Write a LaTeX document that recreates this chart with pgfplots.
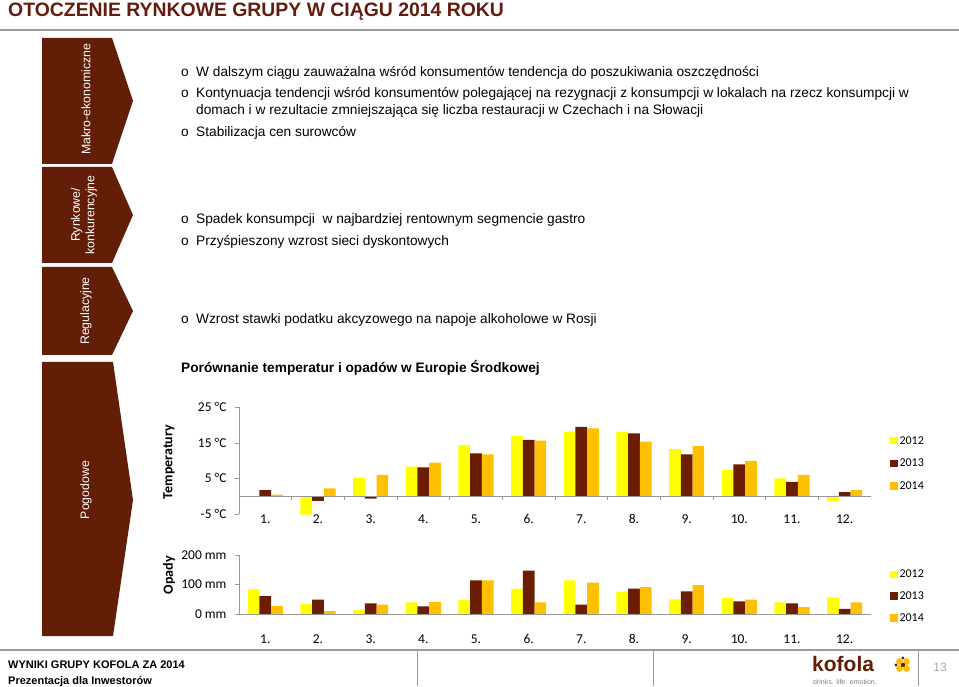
\documentclass[border=0pt]{standalone}
\usepackage{fontspec}
\setmainfont{Liberation Sans}
\newfontfamily\calfont{Carlito}
\usepackage{pgfplots}
\pgfplotsset{compat=1.18}
\definecolor{brn}{RGB}{98,30,6}
\definecolor{ttl}{RGB}{100,28,14}
\definecolor{cY}{RGB}{255,255,0}
\definecolor{cD}{RGB}{108,30,4}
\definecolor{cO}{RGB}{255,192,0}
\definecolor{axgray}{RGB}{150,150,150}
\definecolor{linegray}{RGB}{155,155,155}

\pgfplotsset{
  chart/.style={
    anchor=south west, scale only axis, width=632pt,
    ybar=0pt, bar width=0.222,
    xmin=0.5, xmax=12.5,
    axis lines*=left,
    x axis line style={draw=none},
    y axis line style={axgray},
    xtick={1,...,12},
    xticklabels={1.,2.,3.,4.,5.,6.,7.,8.,9.,10.,11.,12.},
    x tick style={draw=none},
    y tick style={axgray},
    tick align=outside, major tick length=4pt,
    ticklabel style={font=\calfont\fontsize{13.5}{14}\selectfont},
    yticklabel style={xshift=-5pt},
    legend cell align=left,
    legend image code/.code={\fill[##1] (0pt,-3.5pt) rectangle (7.5pt,4pt);},
  },
}

\begin{document}
\begin{tikzpicture}[x=1pt,y=1pt]
\useasboundingbox[fill=white] (0,0) rectangle (959,686);

\begin{scope}[yshift=686pt, yscale=-1]
  % title and rules
  \node[anchor=base west, inner sep=0pt, text=ttl, font=\bfseries\fontsize{19.4}{21}\selectfont] at (8,16.5) {OTOCZENIE RYNKOWE GRUPY W CIĄGU 2014 ROKU};
  \draw[linegray, line width=2pt] (0,30) -- (959,30);
  \draw[linegray, line width=1.5pt] (0,650) -- (959,650);
  \foreach \sx in {417,653,918} \draw[linegray, line width=1pt] (\sx,650) -- (\sx,686);

  % chevrons
  \fill[brn] (42,38) -- (112,38) -- (133,101) -- (112,164) -- (42,164) -- cycle;
  \fill[brn] (42,167) -- (112,167) -- (133,215) -- (112,263) -- (42,263) -- cycle;
  \fill[brn] (42,267) -- (112,267) -- (133,311) -- (112,355) -- (42,355) -- cycle;
  \fill[brn] (42,362) -- (113,362) -- (133,500) -- (113,636) -- (42,636) -- cycle;
  \begin{scope}[every node/.style={rotate=90, text=white, font=\fontsize{12.3}{14.5}\selectfont, align=center, inner sep=0pt}]
    \node at (86,99) {Makro-ekonomiczne};
    \node at (84,215) {Rynkowe/\\konkurencyjne};
    \node at (86,311) {Regulacyjne};
    \node at (86,490) {Pogodowe};
  \end{scope}

  % bullets
  \begin{scope}[every node/.style={anchor=base west, inner sep=0pt, font=\fontsize{13.7}{16}\selectfont}]
    \foreach \by in {77,98,137,224,246,324} \node at (181,\by) {o};
    \node at (196,77) {W dalszym ciągu zauważalna wśród konsumentów tendencja do poszukiwania oszczędności};
    \node at (196,98) {Kontynuacja tendencji wśród konsumentów polegającej na rezygnacji z konsumpcji w lokalach na rzecz konsumpcji w};
    \node at (196,115) {domach i w rezultacie zmniejszająca się liczba restauracji w Czechach i na Słowacji};
    \node at (196,137) {Stabilizacja cen surowców};
    \node at (196,224) {Spadek konsumpcji\ \ w najbardziej rentownym segmencie gastro};
    \node at (196,246) {Przyśpieszony wzrost sieci dyskontowych};
    \node at (196,324) {Wzrost stawki podatku akcyzowego na napoje alkoholowe w Rosji};
    \node[font=\bfseries\fontsize{13.7}{16}\selectfont] at (181,373) {Porównanie temperatur i opadów w Europie Środkowej};
  \end{scope}

  % chart axis titles
  \node[rotate=90, font=\calfont\bfseries\fontsize{14}{16}\selectfont] at (169,462) {Temperatury};
  \node[rotate=90, font=\calfont\bfseries\fontsize{14}{16}\selectfont] at (169,575) {Opady};

  % footer
  \node[anchor=base west, inner sep=0pt, font=\bfseries\fontsize{11}{12}\selectfont] at (8,668) {WYNIKI GRUPY KOFOLA ZA 2014};
  \node[anchor=base west, inner sep=0pt, font=\bfseries\fontsize{11}{12}\selectfont] at (8,684) {Prezentacja dla Inwestorów};
  \node[anchor=base west, inner sep=0pt, text=brn, font=\bfseries\fontsize{21}{22}\selectfont] at (812,671) {kofola};
  \node[anchor=base west, inner sep=0pt, text=gray, font=\fontsize{7}{8}\selectfont] at (813,684) {drinks. life. emotion.};
  \fill[cO] (899.5,661.5) circle (3.4) (906.5,661.5) circle (3.4) (899.5,668.5) circle (3.4) (906.5,668.5) circle (3.4);
  \fill[brn] (903,665) circle (2.2) (896,665) circle (1.6) (903,658) circle (1.6);
  \node[text=gray!70, font=\fontsize{12}{14}\selectfont] at (940,667) {13};
\end{scope}

% temperature chart
\begin{axis}[chart,
  at={(239pt,172pt)}, height=107pt,
  ymin=-5, ymax=25,
  ytick={-5,5,15,25}, yticklabels={-5 °C,5 °C,15 °C,25 °C},
  xticklabel style={yshift=7pt},
  legend style={draw=none, fill=none, at={(1.025,0.47)}, anchor=west,
    font=\calfont\fontsize{12}{12}\selectfont, row sep=9.5pt},
]
\addplot[fill=cY, draw=none] coordinates {(1,0) (2,-5.2) (3,5.2) (4,8.3) (5,14.3) (6,16.9) (7,18.1) (8,18.1) (9,13.2) (10,7.3) (11,5.0) (12,-1.3)};
\addplot[fill=cD, draw=none] coordinates {(1,1.7) (2,-1.3) (3,-0.7) (4,8.1) (5,12.0) (6,15.8) (7,19.4) (8,17.6) (9,11.7) (10,8.9) (11,4.0) (12,1.1)};
\addplot[fill=cO, draw=none] coordinates {(1,0.4) (2,2.2) (3,6.0) (4,9.4) (5,11.7) (6,15.6) (7,19.0) (8,15.3) (9,14.0) (10,9.9) (11,6.0) (12,1.7)};
\legend{2012,2013,2014}
\draw[axgray] (axis cs:0.5,0) -- (axis cs:12.5,0);
\pgfplotsinvokeforeach{0.5,1.5,2.5,3.5,4.5,5.5,6.5,7.5,8.5,9.5,10.5,11.5,12.5}{
  \draw[axgray] (axis cs:#1,0) -- ++(0pt,-4pt);
}
\end{axis}

% precipitation chart
\begin{axis}[chart,
  at={(239pt,72pt)}, height=59pt,
  ymin=0, ymax=200,
  ytick={0,100,200}, yticklabels={0 mm,100 mm,200 mm},
  xticklabel style={yshift=-13pt},
  legend style={draw=none, fill=none, at={(1.025,0.30)}, anchor=west,
    font=\calfont\fontsize{12}{12}\selectfont, row sep=8.5pt},
]
\addplot[fill=cY, draw=none] coordinates {(1,84) (2,34) (3,14) (4,39) (5,47) (6,86) (7,114) (8,76) (9,50) (10,54) (11,39) (12,56)};
\addplot[fill=cD, draw=none] coordinates {(1,61) (2,49) (3,36) (4,26) (5,114) (6,147) (7,32) (8,86) (9,77) (10,43) (11,36) (12,17)};
\addplot[fill=cO, draw=none] coordinates {(1,27) (2,10) (3,32) (4,41) (5,114) (6,39) (7,106) (8,91) (9,98) (10,49) (11,23) (12,39)};
\legend{2012,2013,2014}
\draw[axgray] (axis cs:0.5,0) -- (axis cs:12.5,0);
\pgfplotsinvokeforeach{0.5,1.5,2.5,3.5,4.5,5.5,6.5,7.5,8.5,9.5,10.5,11.5,12.5}{
  \draw[axgray] (axis cs:#1,0) -- ++(0pt,-4pt);
}
\end{axis}
\end{tikzpicture}
\end{document}
